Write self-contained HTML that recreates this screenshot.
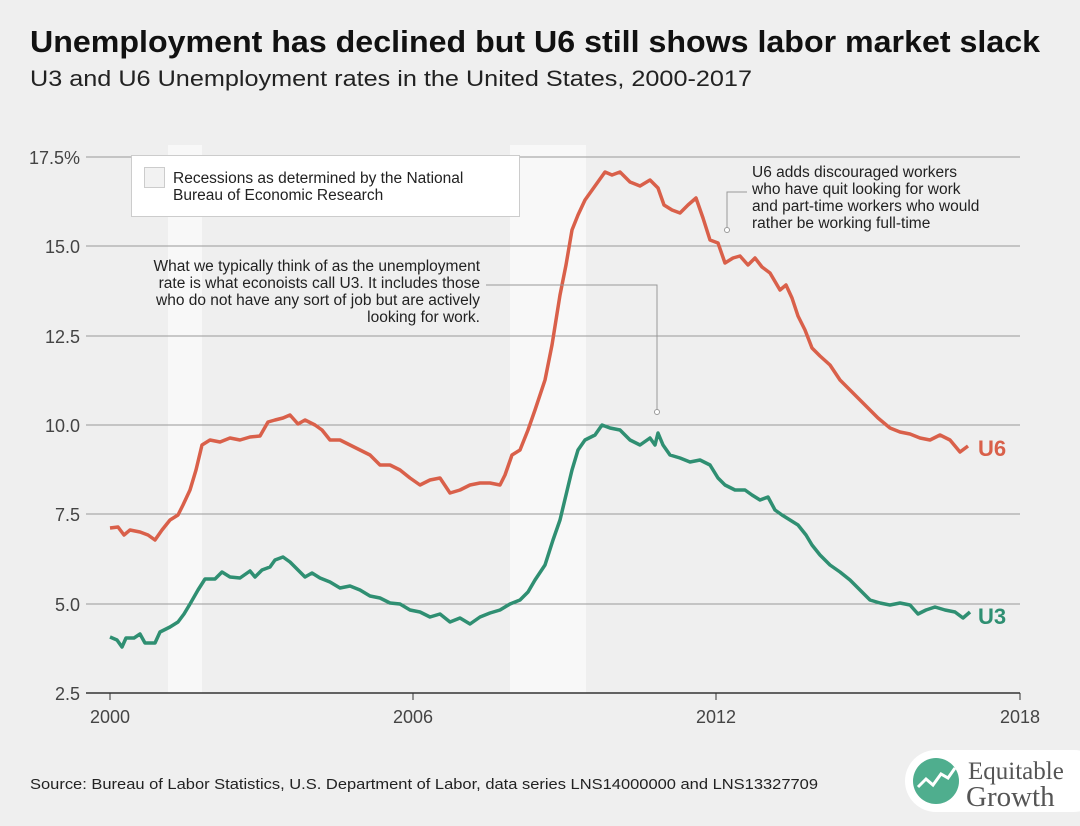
<!DOCTYPE html><html><head><style>
body{margin:0;width:1080px;height:826px;background:#efefef;font-family:"Liberation Sans",sans-serif;overflow:hidden;position:relative}
</style></head><body>
<svg width="1080" height="826" style="position:absolute;left:0;top:0" font-family="Liberation Sans, sans-serif">
<text x="30" y="52" font-size="31" font-weight="bold" fill="#111" textLength="1010" lengthAdjust="spacingAndGlyphs">Unemployment has declined but U6 still shows labor market slack</text>
<text x="30" y="86" font-size="22" fill="#222" textLength="722" lengthAdjust="spacingAndGlyphs">U3 and U6 Unemployment rates in the United States, 2000-2017</text>
<rect x="168" y="145" width="34" height="548" fill="#f8f8f8"/>
<rect x="510" y="145" width="76" height="548" fill="#f8f8f8"/>
<g stroke="#999" stroke-width="1">
<line x1="86" x2="1020" y1="157" y2="157"/><line x1="86" x2="1020" y1="246" y2="246"/><line x1="86" x2="1020" y1="336" y2="336"/><line x1="86" x2="1020" y1="425" y2="425"/><line x1="86" x2="1020" y1="514" y2="514"/><line x1="86" x2="1020" y1="604" y2="604"/>
</g>
<line x1="86" x2="1020" y1="693" y2="693" stroke="#333" stroke-width="1.5"/>
<g stroke="#333"><line x1="110" x2="110" y1="693" y2="700"/><line x1="413" x2="413" y1="693" y2="700"/><line x1="716" x2="716" y1="693" y2="700"/><line x1="1020" x2="1020" y1="693" y2="700"/></g>
<g font-size="18" fill="#444" text-anchor="end">
<text x="80" y="164">17.5%</text><text x="80" y="253">15.0</text><text x="80" y="343">12.5</text><text x="80" y="432">10.0</text><text x="80" y="521">7.5</text><text x="80" y="611">5.0</text><text x="80" y="700">2.5</text></g>
<g font-size="18" fill="#444" text-anchor="middle"><text x="110" y="723">2000</text><text x="413" y="723">2006</text><text x="716" y="723">2012</text><text x="1020" y="723">2018</text></g>
<rect x="131.5" y="155.5" width="388" height="61" fill="#fff" stroke="#ccc"/>
<rect x="144.5" y="167.5" width="20" height="20" fill="#f2f2f2" stroke="#ccc"/>
<text x="173" y="183" font-size="15.5" fill="#222">Recessions as determined by the National</text>
<text x="173" y="200" font-size="15.5" fill="#222">Bureau of Economic Research</text>
<polyline fill="none" stroke="#2f8f72" stroke-width="3.5" stroke-linejoin="round" points="110,637 117,640 122,647 126,638 134,638 140,634 145,643 155,643 160,632 170,627 178,622 184,614 190,604 198,590 205,579 215,579 222,572 230,577 240,578 250,571 255,577 262,570 270,567 275,560 283,557 290,562 298,570 305,577 312,573 320,578 330,582 340,588 350,586 360,590 370,596 380,598 390,603 400,604 410,610 420,612 430,617 440,614 450,622 460,618 470,624 480,617 490,613 500,610 510,604 520,600 528,592 535,580 545,565 553,540 560,520 566,495 572,470 578,450 585,440 595,435 602,425 610,428 620,430 630,440 640,445 650,438 655,445 658,433 663,445 670,455 680,458 690,462 700,460 710,465 718,478 725,485 735,490 745,490 752,495 760,500 768,497 775,510 782,515 790,520 798,525 806,535 812,545 820,555 830,565 840,572 850,580 860,590 870,600 880,603 890,605 900,603 910,605 918,614 926,610 935,607 945,610 955,612 963,618 970,612"/>
<polyline fill="none" stroke="#d9604a" stroke-width="3.5" stroke-linejoin="round" points="110,528 118,527 124,535 130,530 140,532 148,535 155,540 162,530 170,520 178,515 183,505 190,490 196,470 202,445 210,440 220,442 230,438 240,440 250,437 260,436 268,422 275,420 283,418 290,415 298,424 305,420 315,425 322,430 330,440 340,440 350,445 360,450 370,455 380,465 390,465 400,470 410,478 420,485 430,480 440,478 450,493 460,490 470,485 480,483 490,483 500,485 505,475 512,455 520,450 528,430 535,410 545,380 552,345 560,295 566,265 572,230 578,215 585,200 595,186 605,172 612,175 620,172 630,182 640,186 650,180 658,188 664,205 672,210 680,213 688,205 696,198 703,218 710,240 718,243 725,263 733,258 740,256 748,265 755,258 762,267 770,273 780,290 786,285 792,298 798,316 805,330 812,348 820,356 830,365 840,380 850,390 860,400 870,410 878,418 890,428 900,432 910,434 920,438 930,440 940,435 950,440 960,452 968,446"/>
<text x="978" y="456" font-size="22" font-weight="bold" fill="#d9604a">U6</text>
<text x="978" y="624" font-size="22" font-weight="bold" fill="#2f8f72">U3</text>
<g font-size="15.5" fill="#222" text-anchor="end">
<text x="480" y="271">What we typically think of as the unemployment</text>
<text x="480" y="288">rate is what econoists call U3. It includes those</text>
<text x="480" y="305">who do not have any sort of job but are actively</text>
<text x="480" y="322">looking for work.</text></g>
<polyline fill="none" stroke="#999" points="486,285 657,285 657,410"/><circle cx="657" cy="412" r="2.5" fill="#fff" stroke="#999"/>
<g font-size="15.5" fill="#222"><text x="752" y="177">U6 adds discouraged workers</text><text x="752" y="194">who have quit looking for work</text><text x="752" y="211">and part-time workers who would</text><text x="752" y="228">rather be working full-time</text></g>
<polyline fill="none" stroke="#999" points="747,192 727,192 727,228"/><circle cx="727" cy="230" r="2.5" fill="#fff" stroke="#999"/>
<text x="30" y="789" font-size="15" fill="#222" textLength="788" lengthAdjust="spacingAndGlyphs">Source: Bureau of Labor Statistics, U.S. Department of Labor, data series LNS14000000 and LNS13327709</text>
<rect x="905" y="750" width="200" height="62" rx="31" fill="#fff"/>
<circle cx="936" cy="781" r="23" fill="#4fae8e"/>
<polyline points="918,787 926,779 933,785 941,774 948,778 955,768" fill="none" stroke="#fff" stroke-width="3"/>
<text x="968" y="779" font-size="25" fill="#555" font-family="Liberation Serif, serif">Equitable</text>
<text x="966" y="806" font-size="29" fill="#555" font-family="Liberation Serif, serif">Growth</text>
</svg>
</body></html>
